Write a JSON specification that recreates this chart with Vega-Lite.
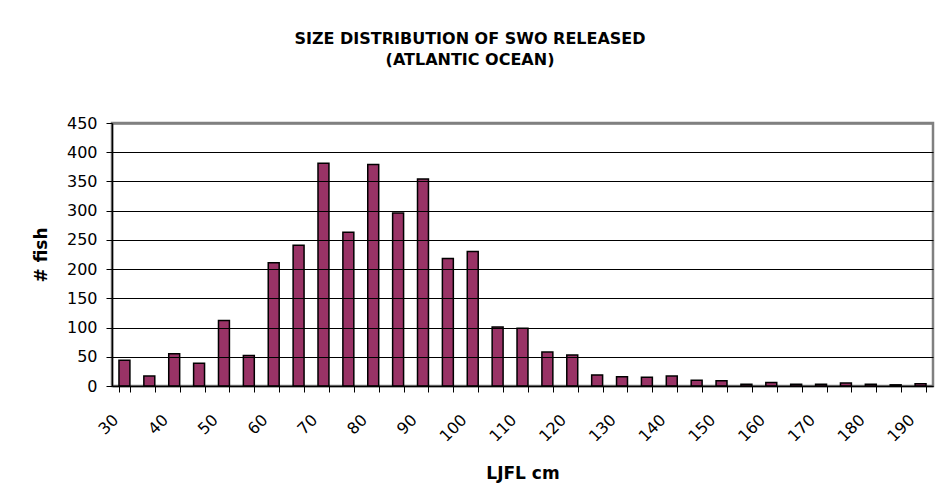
{
  "$schema": "https://vega.github.io/schema/vega-lite/v6.json",
  "width": 821,
  "height": 263,
  "autosize": "none",
  "padding": {"left": 112, "top": 123, "right": 8, "bottom": 110},
  "background": "white",
  "title": {
    "text": ["SIZE DISTRIBUTION OF SWO RELEASED", "(ATLANTIC OCEAN)"],
    "font": "DejaVu Sans",
    "fontSize": 16,
    "fontWeight": "bold",
    "color": "black",
    "lineHeight": 21,
    "anchor": "middle",
    "frame": "group",
    "dx": -52.5,
    "offset": 47
  },
  "data": {
    "values": [
      {"ljfl": 30, "count": 44},
      {"ljfl": 35, "count": 17},
      {"ljfl": 40, "count": 55},
      {"ljfl": 45, "count": 39},
      {"ljfl": 50, "count": 112},
      {"ljfl": 55, "count": 52},
      {"ljfl": 60, "count": 211},
      {"ljfl": 65, "count": 241},
      {"ljfl": 70, "count": 381},
      {"ljfl": 75, "count": 263},
      {"ljfl": 80, "count": 379},
      {"ljfl": 85, "count": 296},
      {"ljfl": 90, "count": 354},
      {"ljfl": 95, "count": 218},
      {"ljfl": 100, "count": 230},
      {"ljfl": 105, "count": 101},
      {"ljfl": 110, "count": 99},
      {"ljfl": 115, "count": 58},
      {"ljfl": 120, "count": 53},
      {"ljfl": 125, "count": 19},
      {"ljfl": 130, "count": 16},
      {"ljfl": 135, "count": 15},
      {"ljfl": 140, "count": 17},
      {"ljfl": 145, "count": 10},
      {"ljfl": 150, "count": 9},
      {"ljfl": 155, "count": 3},
      {"ljfl": 160, "count": 6},
      {"ljfl": 165, "count": 3},
      {"ljfl": 170, "count": 3},
      {"ljfl": 175, "count": 5},
      {"ljfl": 180, "count": 3},
      {"ljfl": 185, "count": 2},
      {"ljfl": 190, "count": 4}
    ]
  },
  "mark": {"type": "bar", "fill": "#993366", "stroke": "black", "strokeWidth": 1.5},
  "encoding": {
    "x": {
      "field": "ljfl",
      "type": "ordinal",
      "scale": {"paddingInner": 0.56, "paddingOuter": 0.28},
      "axis": {
        "title": "LJFL cm",
        "titleFont": "DejaVu Sans",
        "titleFontSize": 17,
        "titleFontWeight": "bold",
        "titleColor": "black",
        "titleBaseline": "alphabetic",
        "titleX": 410.5,
        "titleY": 92,
        "labelExpr": "datum.value % 10 == 0 ? datum.label : ''",
        "labelAngle": -45,
        "labelAlign": "right",
        "labelBaseline": "middle",
        "labelOffset": -9,
        "labelPadding": 25,
        "labelFont": "DejaVu Sans",
        "labelFontSize": 16,
        "labelColor": "black",
        "labelOverlap": false,
        "tickBand": "extent",
        "tickSize": 6,
        "tickColor": "black",
        "domainColor": "black",
        "domainWidth": 1.5,
        "grid": false,
        "zindex": 1
      }
    },
    "y": {
      "field": "count",
      "type": "quantitative",
      "scale": {"domain": [0, 450], "nice": false},
      "axis": {
        "title": "# fish",
        "titleFont": "DejaVu Sans",
        "titleFontSize": 17,
        "titleFontWeight": "bold",
        "titleColor": "black",
        "titleAngle": -90,
        "titleAlign": "center",
        "titleBaseline": "middle",
        "titleX": -70.5,
        "titleY": 131.5,
        "values": [0, 50, 100, 150, 200, 250, 300, 350, 400, 450],
        "labelFont": "DejaVu Sans",
        "labelFontSize": 16,
        "labelColor": "black",
        "labelPadding": 9,
        "tickSize": 6,
        "tickColor": "black",
        "domainColor": "black",
        "domainWidth": 1.5,
        "grid": true,
        "gridColor": {"condition": {"test": "datum.value == 450", "value": "#808080"}, "value": "black"},
        "gridWidth": {"condition": {"test": "datum.value == 450", "value": 2.5}, "value": 1},
        "zindex": 1
      }
    }
  },
  "config": {
    "view": {"stroke": "#808080", "strokeWidth": 2.5}
  }
}
